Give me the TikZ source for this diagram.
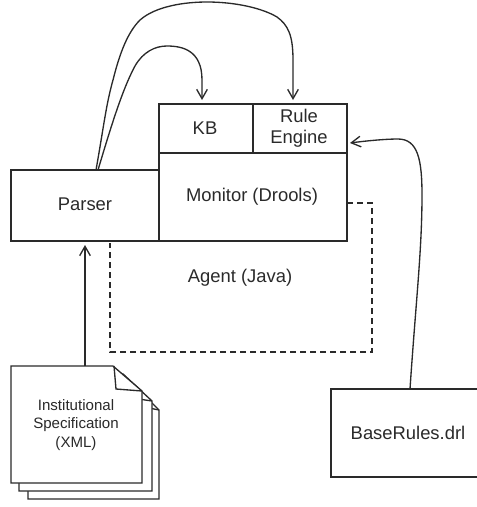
\documentclass[tikz,border=0pt]{standalone}
\usepackage{fontspec}
\setmainfont{Liberation Sans}
\usetikzlibrary{arrows.meta}
\definecolor{ink}{HTML}{2A2A2A}
\tikzset{
  lab/.style={text=ink,inner sep=0pt,align=center,font=\fontsize{13.8pt}{16pt}\selectfont},
  small/.style={text=ink,inner sep=0pt,align=center,font=\fontsize{11.3pt}{14pt}\selectfont},
  conn/.style={draw=ink,line width=1pt,-{Straight Barb[length=7pt,width=8pt,line width=1pt]}},
  page/.style={draw=ink,line width=1pt,fill=white}
}
\begin{document}
\begin{tikzpicture}[x=0.75pt,y=-0.75pt]
\useasboundingbox (0,0) rectangle (477,507);
% dashed agent
\coordinate (d1) at (347,203);
\coordinate (d2) at (372,203);
\coordinate (d3) at (372,352);
\coordinate (d4) at (110,352);
\coordinate (d5) at (110,243);
\draw[draw=ink,line width=0.9pt,dash pattern=on 4.5pt off 3pt] (d1) -- (d2) -- (d3) -- (d4) -- (d5);
% boxes
\path[page] (11,170) rectangle (159,241);
\node[lab] (parser) at (85,204) {Parser};
\path[page] (159,153) rectangle (347,241);
\node[lab] (monitor) at (252,197) {Monitor (Drools)};
\path[page] (159,104) rectangle (253,153);
\node[lab] (kb) at (205,128) {KB};
\path[page] (253,104) rectangle (347,153);
\node[lab] (rule) at (299,128) {Rule\\Engine};
\node[lab] (agent) at (240,278) {Agent (Java)};
\path[page] (331,389) rectangle (490,477);
\node[lab] (base) at (408,433) {BaseRules.drl};
% document stack
\path[page] (28,382) -- (131,382) -- (159,410) -- (159,499) -- (28,499) -- cycle;
\draw[draw=ink,line width=1pt] (131,382) -- (134,405) -- (159,410);
\path[page] (19,374) -- (123,374) -- (152,401) -- (152,491) -- (19,491) -- cycle;
\draw[draw=ink,line width=1pt] (123,374) -- (125,397) -- (152,401);
\path[page] (11,366) -- (113,366) -- (142,391) -- (142,483) -- (11,483) -- cycle;
\draw[draw=ink,line width=1pt] (114,366) -- (116,389) -- (142,391);
\node[small] (spec) at (76,425) {Institutional\\Specification\\(XML)};
\coordinate (doctop) at (85,366);
\coordinate (parsertop1) at (96,170);
\coordinate (parsertop2) at (98,170);
\coordinate (kbtop) at (202,100);
\coordinate (ruletop) at (293,100);
\coordinate (ruleright) at (350,143);
\coordinate (basetop) at (410,389);
\coordinate (parserin) at (85,245);
% connectors
\draw[conn] (doctop) -- (parserin);
\draw[conn] (parsertop1) .. controls (104,125) and (106,105) .. (113,80) .. controls (120,52) and (128,32) .. (140,20) .. controls (156,6) and (185,2) .. (207,2) .. controls (235,2) and (262,8) .. (277,17) .. controls (288,25) and (293,35) .. (293,60) -- (ruletop);
\draw[conn] (parsertop2) .. controls (110,130) and (122,90) .. (135,66) .. controls (143,52) and (155,46) .. (167,46) .. controls (182,46) and (202,50) .. (202,80) -- (kbtop);
\draw[conn] (basetop) .. controls (416,300) and (422,250) .. (422,195) .. controls (422,160) and (418,139) .. (398,139) .. controls (385,139) and (365,141) .. (ruleright);
\end{tikzpicture}
\end{document}
